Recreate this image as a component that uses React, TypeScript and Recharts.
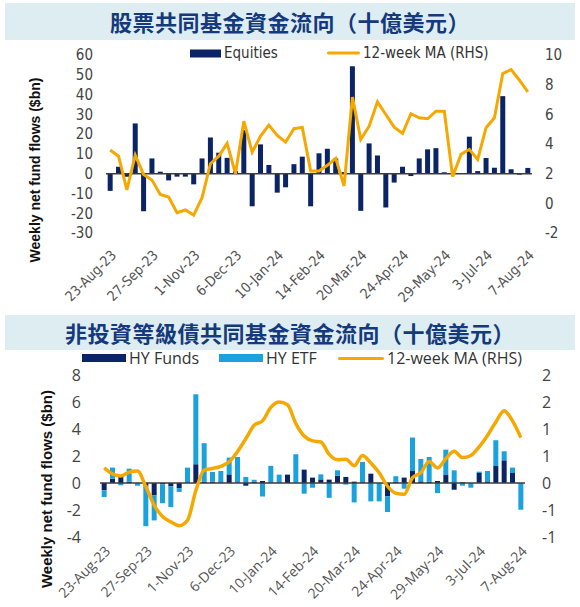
import {
  ComposedChart,
  Bar,
  Line,
  XAxis,
  YAxis,
  ReferenceLine,
} from "recharts";

const dates = [
  "23-Aug-23", "30-Aug-23", "6-Sep-23", "13-Sep-23", "20-Sep-23", "27-Sep-23",
  "4-Oct-23", "11-Oct-23", "18-Oct-23", "25-Oct-23", "1-Nov-23", "8-Nov-23",
  "15-Nov-23", "22-Nov-23", "29-Nov-23", "6-Dec-23", "13-Dec-23", "20-Dec-23",
  "27-Dec-23", "3-Jan-24", "10-Jan-24", "17-Jan-24", "24-Jan-24", "31-Jan-24",
  "7-Feb-24", "14-Feb-24", "21-Feb-24", "28-Feb-24", "6-Mar-24", "13-Mar-24",
  "20-Mar-24", "27-Mar-24", "3-Apr-24", "10-Apr-24", "17-Apr-24", "24-Apr-24",
  "1-May-24", "8-May-24", "15-May-24", "22-May-24", "29-May-24", "5-Jun-24",
  "12-Jun-24", "19-Jun-24", "26-Jun-24", "3-Jul-24", "10-Jul-24", "17-Jul-24",
  "24-Jul-24", "31-Jul-24", "7-Aug-24",
];

// equity fund flows ($bn) and 12-week MA (RHS)
const equities = [
  -8.7, 3.5, -1.5, 25.4, -19, 7.7, 1, -3.4, -1.5, -1.5, -5.4, 7.7, 18.3,
  10.6, 8, 1.3, 22, -16.5, 14.8, 4.4, -9.6, -6.9, 4.8, 8.6, -16.5, 10.3,
  12.6, 7.7, 0.8, 54.3, -18.8, 15.3, 9.2, -17.1, -4.5, 3.5, -1.2, 7.7, 12.3,
  12.9, 0.7, 0.2, 0, 18.7, 1.3, 7.9, 3, 39.2, 2.2, -0.5, 2.9,
];
const equitiesMA = [
  3.59, 3.18, 0.9, 3.25, 1.95, 1.57, 0.6, 0.43, -0.63, -0.45, -0.79, 0.38,
  2.67, 3.18, 4.04, 2.0, 5.54, 3.45, 4.53, 5.27, 4.58, 4.13, 5.03, 5.12,
  2.18, 2.18, 2.56, 3.03, 1.17, 7.16, 4.31, 5.2, 6.84, 5.99, 5.14, 4.71,
  6.04, 5.77, 5.7, 6.21, 6.21, 1.8, 3.3, 3.64, 2.96, 5.1, 5.77, 8.75, 9.02,
  8.3, 7.52,
];

// high yield flows ($bn) and 12-week MA (RHS)
const hyFunds = [
  -0.54, 0.32, 0.45, 0.1, 0, -0.2, -0.92, -0.1, -0.25, -0.38, 0.05, 1.39,
  0.1, 0.1, 0.05, 0.64, 0.05, -0.2, 0.1, 0.15, 0.05, 0.05, 0.62, 0, 0.99,
  0.4, 0.27, 0.25, 0.54, 0.45, 0.1, 0.06, 0.69, 0, -0.99, 0.1, 0.4, 0.89,
  0.12, 0.1, 0.15, 0.59, -0.5, 0.05, 0, 0.74, 0.12, 1.26, 1.68, 0.74, 0,
];
const hyEtf = [
  -0.5, 0.82, -0.17, 0.96, -0.2, -3.0, -1.85, -1.4, -1.54, -0.28, 1.09,
  5.18, 2.85, 0.72, 0.84, 1.24, 1.88, 0.45, 0.15, -1.0, 1.22, 0.57, 0,
  2.13, -0.79, -0.35, 0.37, -1.1, 0.4, -0.12, -1.44, 1.5, -1.36, -1.36,
  -1.16, 0.4, -0.42, 2.48, 1.66, 1.83, -0.74, 1.88, 0.94, -0.2, -0.35, 0.1,
  0.77, 1.91, 0.67, 0.4, -1.98,
];
const hyMA = [
  0.28, 0.17, 0.13, 0.2, 0.22, -0.07, -0.41, -0.62, -0.72, -0.79, -0.69,
  -0.14, 0.24, 0.27, 0.31, 0.39, 0.58, 0.82, 1.07, 1.15, 1.4, 1.5, 1.45,
  1.1, 0.87, 0.78, 0.76, 0.53, 0.43, 0.44, 0.32, 0.51, 0.37, 0.19, -0.06,
  -0.19, -0.21, 0.1, 0.19, 0.4, 0.28, 0.45, 0.59, 0.47, 0.51, 0.67, 0.88,
  1.13, 1.34, 1.15, 0.84,
];

const equityTicks = [-30, -20, -10, 0, 10, 20, 30, 40, 50, 60];
const equityMATicks = [-2, 0, 2, 4, 6, 8, 10];
const hyTicks = [-4, -2, 0, 2, 4, 6, 8];
const hyMATicks = [-1, -0.5, 0, 0.5, 1, 1.5, 2];

const NAVY = "#0a2466";
const LIGHT = "#1aa2df";
const ORANGE = "#f5a800";
const TITLE = "#14397d";
const NARROW = "'Liberation Sans Narrow', 'DejaVu Sans Condensed', sans-serif";
const SANS = "'Open Sans', 'Noto Sans', sans-serif";
const CJK = "'Noto Sans CJK TC', 'Noto Sans CJK SC', sans-serif";

const equityData = dates.map((date, i) => ({
  date,
  equities: equities[i],
  ma: equitiesMA[i],
}));
const hyData = dates.map((date, i) => ({
  date,
  funds: hyFunds[i],
  etf: hyEtf[i],
  ma: hyMA[i],
}));

function Banner({ top, height, text }: { top: number; height: number; text: string }) {
  return (
    <div
      style={{
        position: "absolute",
        left: 5,
        top,
        width: 570,
        height,
        background: "#deedf2",
        color: TITLE,
        fontFamily: CJK,
        fontWeight: 700,
        fontSize: 22,
        lineHeight: `${height}px`,
        textAlign: "center",
        letterSpacing: 0.5,
      }}
    >
      {text}
    </div>
  );
}

function YLabel({ x, y, size }: { x: number; y: number; size: number }) {
  return (
    <div
      style={{
        position: "absolute",
        left: x,
        top: y,
        transform: "translate(-50%, -50%) rotate(-90deg)",
        whiteSpace: "nowrap",
        fontFamily: "'Liberation Sans', Arial, sans-serif",
        fontWeight: 700,
        fontSize: size,
        color: "#111",
      }}
    >
      Weekly net fund flows ($bn)
    </div>
  );
}

function LegendItem({
  left,
  top,
  kind,
  color,
  label,
  font,
  size,
  w,
}: {
  left: number;
  top: number;
  kind: "rect" | "line";
  color: string;
  label: string;
  font: string;
  size: number;
  w: number;
}) {
  return (
    <div
      style={{
        position: "absolute",
        left,
        top,
        display: "flex",
        alignItems: "center",
        fontFamily: font,
        fontSize: size,
        lineHeight: `${size}px`,
        color: "#333",
        whiteSpace: "nowrap",
        transform: "translateY(-50%)",
      }}
    >
      <span
        style={{
          display: "inline-block",
          width: w,
          height: kind === "rect" ? 8 : 3,
          background: color,
          borderRadius: kind === "line" ? 2 : 0,
          marginRight: 3,
        }}
      />
      {label}
    </div>
  );
}

function EquityChart() {
  return (
    <ComposedChart
      width={580}
      height={270}
      data={equityData}
      margin={{ top: 15, right: 0, left: 0, bottom: 0 }}
      barCategoryGap="20%"
    >
      <XAxis
        dataKey="date"
        interval={4}
        tickLine={false}
        axisLine={false}
        height={77}
        tickMargin={10}
        angle={-45}
        textAnchor="end"
        tick={{ fontSize: 14, fill: "#555", fontFamily: NARROW }}
      />
      <YAxis
        yAxisId="left"
        width={106}
        domain={[-30, 60]}
        ticks={equityTicks}
        interval={0}
        tickLine={false}
        axisLine={false}
        tickMargin={7}
        tick={{ fontSize: 15, fill: "#444", fontFamily: NARROW }}
      />
      <YAxis
        yAxisId="right"
        orientation="right"
        width={48}
        domain={[-2, 10]}
        ticks={equityMATicks}
        interval={0}
        tickLine={false}
        axisLine={false}
        tickMargin={7}
        tick={{ fontSize: 15, fill: "#444", fontFamily: NARROW }}
      />
      <Bar
        yAxisId="left"
        dataKey="equities"
        fill={NAVY}
        isAnimationActive={false}
      />
      <ReferenceLine yAxisId="left" y={0} stroke="#3c3c3c" strokeWidth={1.5} />
      <Line
        yAxisId="right"
        dataKey="ma"
        type="linear"
        stroke={ORANGE}
        strokeWidth={3}
        dot={false}
        isAnimationActive={false}
      />
    </ComposedChart>
  );
}

function HYChart() {
  return (
    <ComposedChart
      width={580}
      height={247}
      data={hyData}
      margin={{ top: 15, right: 0, left: 0, bottom: 0 }}
      barCategoryGap="20%"
      stackOffset="sign"
    >
      <XAxis
        dataKey="date"
        interval={4}
        tickLine={false}
        axisLine={false}
        height={70}
        tickMargin={2}
        angle={-45}
        textAnchor="end"
        tick={{ fontSize: 14, fill: "#555", fontFamily: SANS }}
      />
      <YAxis
        yAxisId="left"
        width={100}
        domain={[-4, 8]}
        ticks={hyTicks}
        interval={0}
        tickLine={false}
        axisLine={false}
        tickMargin={13}
        tick={{ fontSize: 16, fill: "#444", fontFamily: SANS }}
      />
      <YAxis
        yAxisId="right"
        orientation="right"
        width={55}
        domain={[-1, 2]}
        ticks={hyMATicks}
        interval={0}
        tickFormatter={(v: number) => v.toFixed(0)}
        tickLine={false}
        axisLine={false}
        tickMargin={11}
        tick={{ fontSize: 16, fill: "#444", fontFamily: SANS }}
      />
      <Bar
        yAxisId="left"
        dataKey="funds"
        stackId="hy"
        fill={NAVY}
        isAnimationActive={false}
      />
      <Bar
        yAxisId="left"
        dataKey="etf"
        stackId="hy"
        fill={LIGHT}
        isAnimationActive={false}
      />
      <ReferenceLine yAxisId="left" y={0} stroke="#3c3c3c" strokeWidth={1.5} />
      <Line
        yAxisId="right"
        dataKey="ma"
        type="monotone"
        stroke={ORANGE}
        strokeWidth={3.5}
        dot={false}
        isAnimationActive={false}
      />
    </ComposedChart>
  );
}

export default function App() {
  return (
    <div
      style={{
        position: "absolute",
        left: 0,
        top: 0,
        width: 580,
        height: 607,
        background: "#fff",
        overflow: "hidden",
      }}
    >
      <Banner top={3} height={37} text="股票共同基金資金流向（十億美元）" />
      <div style={{ position: "absolute", left: 0, top: 40 }}>
        <EquityChart />
      </div>
      <LegendItem left={190} top={53} kind="rect" color={NAVY} label="Equities" font={NARROW} size={15} w={31} />
      <LegendItem left={327} top={53} kind="line" color={ORANGE} label="12-week MA (RHS)" font={NARROW} size={15} w={33} />
      <YLabel x={35} y={170} size={14} />

      <Banner top={315} height={35} text="非投資等級債共同基金資金流向（十億美元）" />
      <div style={{ position: "absolute", left: 0, top: 360 }}>
        <HYChart />
      </div>
      <LegendItem left={82} top={358} kind="rect" color={NAVY} label="HY Funds" font={SANS} size={16} w={44} />
      <LegendItem left={219} top={358} kind="rect" color={LIGHT} label="HY ETF" font={SANS} size={16} w={44} />
      <LegendItem left={338} top={358} kind="line" color={ORANGE} label="12-week MA (RHS)" font={SANS} size={16} w={46} />
      <YLabel x={46} y={489} size={15} />
    </div>
  );
}
